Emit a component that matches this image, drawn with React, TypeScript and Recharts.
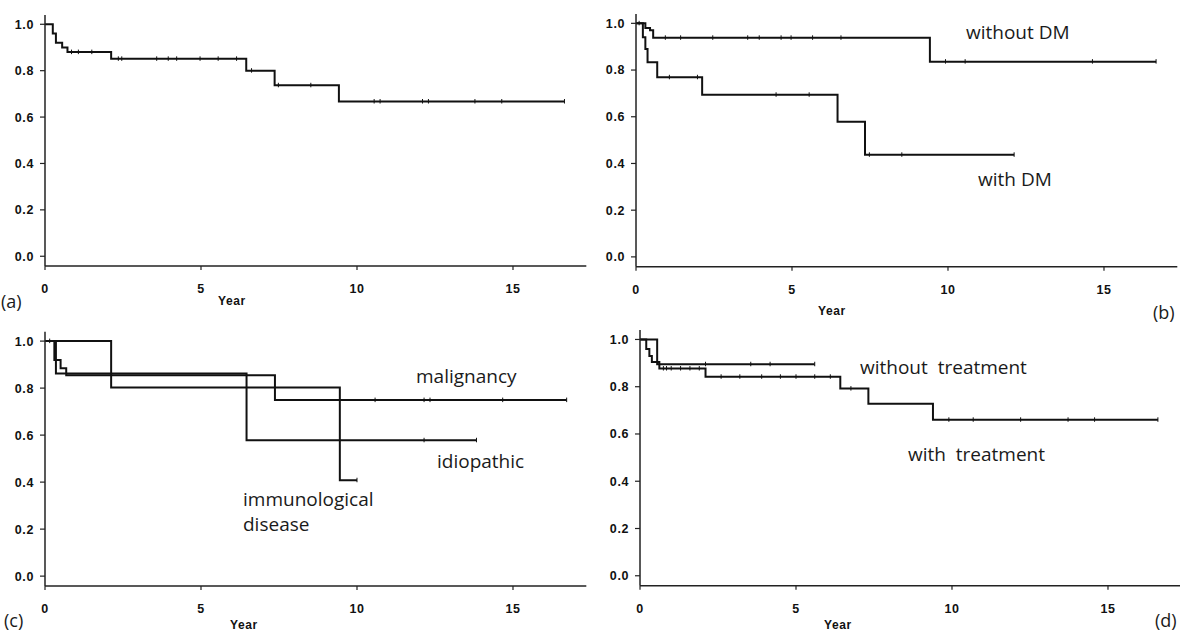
import React from 'react';
import { ComposedChart, Line, XAxis, YAxis } from 'recharts';

// ---------- data (years, survival) ----------
// (a) overall
const aTimes = [0, 0.25, 0.35, 0.55, 0.72, 2.12, 6.45, 7.36, 9.42, 16.65];
const aSurv = [1.0, 0.96, 0.92, 0.9, 0.88, 0.851, 0.8, 0.737, 0.667, 0.667];
const aCensor = [0.85, 1.07, 1.5, 2.35, 2.46, 3.58, 3.95, 4.22, 4.97, 5.55, 6.14, 6.62, 7.48, 8.52, 10.55, 10.74, 12.1, 12.29, 13.78, 14.64, 16.65];

// (b) without DM / with DM
const bNoDmTimes = [0, 0.3, 0.45, 0.55, 9.42, 16.67];
const bNoDmSurv = [1.0, 0.98, 0.97, 0.938, 0.836, 0.836];
const bNoDmCensor = [0.1, 0.94, 1.43, 2.46, 3.58, 3.95, 4.65, 4.97, 5.66, 6.57, 9.92, 10.55, 14.63, 16.67];
const bDmTimes = [0, 0.22, 0.3, 0.37, 0.68, 2.12, 6.46, 7.34, 12.12];
const bDmSurv = [1.0, 0.94, 0.89, 0.833, 0.769, 0.694, 0.579, 0.437, 0.437];
const bDmCensor = [1.07, 1.97, 4.49, 5.55, 7.48, 8.52, 12.12];

// (c) immunological disease / idiopathic / malignancy
const cImmTimes = [0, 2.12, 9.45, 10.0];
const cImmSurv = [1.0, 0.803, 0.408, 0.408];
const cImmCensor = [0.15, 10.0];
const cIdiTimes = [0, 0.35, 6.46, 13.83];
const cIdiSurv = [1.0, 0.862, 0.578, 0.578];
const cIdiCensor = [12.15, 13.83];
const cMalTimes = [0, 0.3, 0.5, 0.68, 7.37, 16.72];
const cMalSurv = [1.0, 0.92, 0.885, 0.855, 0.749, 0.749];
const cMalCensor = [10.58, 12.15, 12.34, 14.67, 16.72];

// (d) with treatment / without treatment
const dWithTimes = [0, 0.2, 0.3, 0.38, 0.62, 2.1, 6.42, 7.32, 9.39, 16.6];
const dWithSurv = [1.0, 0.96, 0.93, 0.905, 0.877, 0.842, 0.792, 0.728, 0.66, 0.66];
const dWithCensor = [0.75, 0.85, 1.0, 1.3, 1.6, 1.9, 2.6, 3.2, 3.9, 4.5, 5.0, 5.6, 6.1, 6.76, 9.9, 10.68, 12.2, 13.72, 14.57, 16.6];
const dWithoutTimes = [0, 0.55, 5.6];
const dWithoutSurv = [1.0, 0.895, 0.895];
const dWithoutCensor = [2.1, 3.55, 4.17, 5.6];

const xTicks = [0, 5, 10, 15];
const yTicks = [0, 0.2, 0.4, 0.6, 0.8, 1.0];
const X_MAX = 17.35;
const Y_DOMAIN: [number, number] = [-0.042, 1.04];

type Pt = { t: number; s: number; c?: boolean };

function buildSeries(times: number[], surv: number[], censor: number[]): Pt[] {
  const pts: Pt[] = times.map((t, i) => ({ t, s: surv[i] }));
  censor.forEach((ct) => {
    let s = surv[0];
    for (let i = 0; i < times.length; i++) if (times[i] <= ct) s = surv[i];
    const ex = pts.find((p) => Math.abs(p.t - ct) < 1e-9);
    if (ex) ex.c = true;
    else pts.push({ t: ct, s, c: true });
  });
  return pts.sort((a, b) => a.t - b.t);
}

const CensorDot = (props: any) => {
  const { cx, cy, payload, index } = props;
  if (!payload || !payload.c || cx == null || cy == null) return <g key={`n${index}`} />;
  return <line key={`c${index}`} x1={cx} x2={cx} y1={cy - 2.5} y2={cy + 2} stroke="#111" strokeWidth={1} />;
};

const tickStyle = { fill: '#111', fontSize: 12.5, fontWeight: 700, fontFamily: 'Arial, "Liberation Sans", sans-serif', letterSpacing: 0.6 };

type PanelProps = {
  left: number;
  top: number;
  plotTop: number;
  plotBottom: number;
  series: Pt[][];
};

const Panel = ({ left, top, plotTop, plotBottom, series }: PanelProps) => {
  const yAxisW = 45;
  const plotW = X_MAX * 31.2;
  const width = yAxisW + plotW + 2;
  const xAxisH = 30;
  const height = plotBottom - top + xAxisH;
  return (
    <div style={{ position: 'absolute', left, top }}>
      <ComposedChart width={width} height={height} margin={{ top: plotTop - top, right: 2, bottom: 0, left: 0 }}>
        <XAxis
          type="number"
          dataKey="t"
          domain={[0, X_MAX]}
          ticks={xTicks}
          allowDataOverflow
          height={xAxisH}
          axisLine={{ stroke: '#222', strokeWidth: 1.5 }}
          tickLine={{ stroke: '#222', strokeWidth: 1.2 }}
          tickSize={4}
          tickMargin={14}
          tick={tickStyle}
        />
        <YAxis
          type="number"
          dataKey="s"
          domain={Y_DOMAIN}
          ticks={yTicks}
          allowDataOverflow
          width={yAxisW}
          axisLine={{ stroke: '#222', strokeWidth: 1.5 }}
          tickLine={{ stroke: '#222', strokeWidth: 1.2 }}
          tickSize={5}
          tickMargin={6}
          tick={tickStyle}
          tickFormatter={(v: number) => v.toFixed(1)}
        />
        {series.map((d, i) => (
          <Line
            key={i}
            data={d}
            dataKey="s"
            type="stepAfter"
            stroke="#111"
            strokeWidth={2}
            dot={CensorDot}
            activeDot={false}
            isAnimationActive={false}
          />
        ))}
      </ComposedChart>
    </div>
  );
};

const labelFont = { fontFamily: '"Open Sans", "Noto Sans", sans-serif', fontSize: 19, color: '#1a1a1a', lineHeight: '19px', whiteSpace: 'pre' as const };
const tagFont = { fontFamily: '"Open Sans", "Noto Sans", sans-serif', fontSize: 18, color: '#1a1a1a', lineHeight: '17px' };
const yearFont = { fontFamily: 'Arial, "Liberation Sans", sans-serif', fontSize: 12, fontWeight: 700, color: '#111', letterSpacing: 0.6, lineHeight: '13px' };

const Txt = ({ x, y, children, style }: any) => (
  <div style={{ position: 'absolute', left: x, top: y, ...style }}>{children}</div>
);

export default function App() {
  const aSeries = [buildSeries(aTimes, aSurv, aCensor)];
  const bSeries = [buildSeries(bNoDmTimes, bNoDmSurv, bNoDmCensor), buildSeries(bDmTimes, bDmSurv, bDmCensor)];
  const cSeries = [
    buildSeries(cImmTimes, cImmSurv, cImmCensor),
    buildSeries(cIdiTimes, cIdiSurv, cIdiCensor),
    buildSeries(cMalTimes, cMalSurv, cMalCensor),
  ];
  const dSeries = [buildSeries(dWithTimes, dWithSurv, dWithCensor), buildSeries(dWithoutTimes, dWithoutSurv, dWithoutCensor)];
  return (
    <div style={{ position: 'absolute', left: 0, top: 0, width: 1180, height: 633, background: '#fff', overflow: 'hidden' }}>
      <Panel left={0} top={0} plotTop={15} plotBottom={266} series={aSeries} />
      <Panel left={590.5} top={0} plotTop={14} plotBottom={266.7} series={bSeries} />
      <Panel left={0} top={318} plotTop={331.7} plotBottom={586} series={cSeries} />
      <Panel left={595} top={318} plotTop={330} plotBottom={585.7} series={dSeries} />

      <Txt x={1} y={293} style={tagFont}>(a)</Txt>
      <Txt x={1153} y={304} style={tagFont}>(b)</Txt>
      <Txt x={4} y={612} style={tagFont}>(c)</Txt>
      <Txt x={1155} y={612} style={tagFont}>(d)</Txt>

      <Txt x={218} y={295} style={yearFont}>Year</Txt>
      <Txt x={818} y={305} style={yearFont}>Year</Txt>
      <Txt x={230} y={619} style={yearFont}>Year</Txt>
      <Txt x={824} y={619} style={yearFont}>Year</Txt>

      <Txt x={966} y={23} style={labelFont}>without DM</Txt>
      <Txt x={978} y={170} style={labelFont}>with DM</Txt>
      <Txt x={416} y={367} style={labelFont}>malignancy</Txt>
      <Txt x={437} y={452} style={labelFont}>idiopathic</Txt>
      <Txt x={243} y={490} style={labelFont}>immunological</Txt>
      <Txt x={243} y={515} style={labelFont}>disease</Txt>
      <Txt x={860} y={358} style={labelFont}>{'without  treatment'}</Txt>
      <Txt x={908} y={445} style={labelFont}>{'with  treatment'}</Txt>
    </div>
  );
}
